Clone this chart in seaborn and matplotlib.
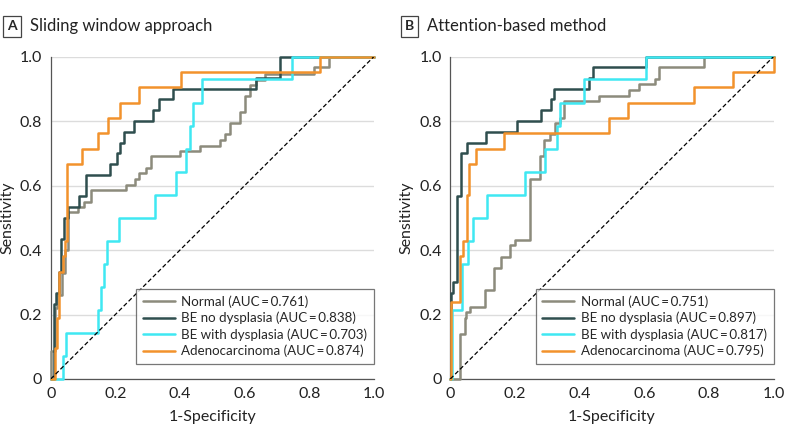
import numpy as np
import pandas as pd
import matplotlib
matplotlib.use("Agg")
import matplotlib.pyplot as plt
import seaborn as sns

# ROC step points (fpr at the vertical step, tpr at the top of the step)
groups = ["Normal", "BE no dysplasia", "BE with dysplasia", "Adenocarcinoma"]
colors = ["#8c8b7c", "#2f4e4e", "#3fe8f2", "#f2922c"]

auc_a = [0.761, 0.838, 0.703, 0.874]
auc_b = [0.751, 0.897, 0.817, 0.795]

# Panel A: sliding window approach
a_normal_fpr = [0, 0.002, 0.012, 0.020, 0.035, 0.045, 0.052, 0.085, 0.104, 0.124, 0.233, 0.261, 0.274,
                0.294, 0.309, 0.400, 0.462, 0.524, 0.540, 0.555, 0.586, 0.601, 0.617, 0.636, 0.663,
                0.815, 0.862, 1.0]
a_normal_tpr = [0, 0.088, 0.220, 0.260, 0.330, 0.400, 0.517, 0.533, 0.550, 0.585, 0.603, 0.621, 0.638,
                0.655, 0.690, 0.707, 0.724, 0.741, 0.759, 0.793, 0.828, 0.879, 0.912, 0.928, 0.946,
                0.966, 1.0, 1.0]
a_nodys_fpr = [0, 0.009, 0.017, 0.025, 0.033, 0.042, 0.053, 0.088, 0.109, 0.183, 0.204, 0.214, 0.227,
               0.259, 0.315, 0.335, 0.378, 0.635, 0.710, 1.0]
a_nodys_tpr = [0, 0.233, 0.267, 0.333, 0.433, 0.500, 0.533, 0.567, 0.633, 0.667, 0.700, 0.733, 0.767,
               0.800, 0.833, 0.867, 0.900, 0.933, 1.0, 1.0]
a_dys_fpr = [0, 0.037, 0.046, 0.147, 0.156, 0.166, 0.175, 0.211, 0.323, 0.387, 0.420, 0.431, 0.441,
             0.467, 0.745, 1.0]
a_dys_tpr = [0, 0.071, 0.143, 0.214, 0.286, 0.357, 0.429, 0.500, 0.571, 0.643, 0.714, 0.786, 0.857,
             0.929, 1.0, 1.0]
a_adeno_fpr = [0, 0.013, 0.020, 0.027, 0.038, 0.044, 0.050, 0.098, 0.147, 0.176, 0.215, 0.274, 0.404,
               0.834, 1.0]
a_adeno_tpr = [0, 0.095, 0.190, 0.333, 0.381, 0.429, 0.667, 0.714, 0.762, 0.810, 0.857, 0.905, 0.952,
               1.0, 1.0]

# Panel B: attention-based method
b_normal_fpr = [0, 0.031, 0.044, 0.050, 0.060, 0.106, 0.134, 0.156, 0.185, 0.200, 0.246, 0.278, 0.291,
                0.309, 0.324, 0.340, 0.353, 0.461, 0.554, 0.585, 0.632, 0.646, 0.784, 1.0]
b_normal_tpr = [0, 0.138, 0.190, 0.207, 0.224, 0.276, 0.345, 0.379, 0.414, 0.431, 0.621, 0.690, 0.741,
                0.759, 0.793, 0.810, 0.862, 0.879, 0.897, 0.914, 0.931, 0.966, 1.0, 1.0]
b_nodys_fpr = [0, 0.001, 0.009, 0.022, 0.032, 0.053, 0.110, 0.206, 0.281, 0.312, 0.322, 0.430, 0.441,
               0.605, 1.0]
b_nodys_tpr = [0, 0.267, 0.300, 0.567, 0.700, 0.733, 0.767, 0.800, 0.833, 0.867, 0.900, 0.933, 0.967,
               1.0, 1.0]
b_dys_fpr = [0, 0.006, 0.037, 0.056, 0.071, 0.113, 0.231, 0.293, 0.329, 0.340, 0.415, 0.605, 1.0]
b_dys_tpr = [0, 0.214, 0.357, 0.429, 0.500, 0.571, 0.643, 0.714, 0.786, 0.857, 0.929, 1.0, 1.0]
b_adeno_fpr = [0, 0.003, 0.031, 0.039, 0.051, 0.058, 0.080, 0.167, 0.491, 0.549, 0.755, 0.874, 1.0]
b_adeno_tpr = [0, 0.238, 0.381, 0.429, 0.571, 0.667, 0.714, 0.762, 0.810, 0.857, 0.905, 0.952, 1.0]


def build_frame(curves, aucs):
    frames = []
    for name, (fpr, tpr), auc in zip(groups, curves, aucs):
        label = f"{name} (AUC\u2009=\u20090.{int(round(auc * 1000)):03d})"
        frames.append(pd.DataFrame({"fpr": fpr, "tpr": tpr, "label": label}))
    return pd.concat(frames, ignore_index=True)


def draw_panel(ax, df):
    labels = list(df["label"].unique())
    ax.grid(axis="y", color="#dcdcdc", linewidth=1)
    ax.set_axisbelow(True)
    sns.lineplot(data=df, x="fpr", y="tpr", hue="label", hue_order=labels,
                 palette=colors, sort=False, estimator=None, drawstyle="steps-post",
                 linewidth=1.8, ax=ax, clip_on=False, zorder=3)
    ax.plot([0, 1], [0, 1], color="black", linestyle=(0, (3.5, 2)), linewidth=0.9, zorder=4)
    ax.set_xlim(0, 1)
    ax.set_ylim(0, 1)
    ticks = [0, 0.2, 0.4, 0.6, 0.8, 1.0]
    ticklabels = ["0", "0.2", "0.4", "0.6", "0.8", "1.0"]
    ax.set_xticks(ticks)
    ax.set_xticklabels(ticklabels)
    ax.set_yticks(ticks)
    ax.set_yticklabels(ticklabels)
    ax.tick_params(axis="both", direction="out", length=4, width=0.8, color="#555555",
                   labelsize=11.5, labelcolor="#222222", pad=2)
    for side in ["top", "right"]:
        ax.spines[side].set_visible(False)
    for side in ["left", "bottom"]:
        ax.spines[side].set_color("#555555")
        ax.spines[side].set_linewidth(0.9)
    ax.set_xlabel("1-Specificity", fontsize=11.5, color="#222222", labelpad=6)
    ax.set_ylabel("Sensitivity", fontsize=11.5, color="#222222", labelpad=4)
    leg = ax.legend(loc="lower right", bbox_to_anchor=(1.0, 0.046), borderaxespad=0,
                    fontsize=9.6, frameon=True, fancybox=False, handlelength=2.4,
                    handletextpad=0.5, labelspacing=0.3, borderpad=0.5)
    leg.get_frame().set_edgecolor("#555555")
    leg.get_frame().set_linewidth(0.9)
    for line in leg.get_lines():
        line.set_linewidth(1.8)


sns.set_theme(style="white")
plt.rcParams["font.family"] = ["Lato", "DejaVu Sans"]

fig = plt.figure(figsize=(7.85, 4.34), dpi=100)
ax_a = fig.add_axes([50.7 / 785, 55 / 434, 323.3 / 785, 322.5 / 434])
ax_b = fig.add_axes([450.3 / 785, 55 / 434, 323.3 / 785, 322.5 / 434])

df_a = build_frame([(a_normal_fpr, a_normal_tpr), (a_nodys_fpr, a_nodys_tpr),
                    (a_dys_fpr, a_dys_tpr), (a_adeno_fpr, a_adeno_tpr)], auc_a)
df_b = build_frame([(b_normal_fpr, b_normal_tpr), (b_nodys_fpr, b_nodys_tpr),
                    (b_dys_fpr, b_dys_tpr), (b_adeno_fpr, b_adeno_tpr)], auc_b)

draw_panel(ax_a, df_a)
draw_panel(ax_b, df_b)

box = dict(boxstyle="square,pad=0.3", facecolor="white", edgecolor="#444444", linewidth=0.9)
fig.text(12.2 / 785, 1 - 26.5 / 434, "A", fontsize=10, fontweight="bold", ha="center", va="center",
         bbox=box)
fig.text(30 / 785, 1 - 26 / 434, "Sliding window approach", fontsize=12, ha="left", va="center",
         color="#222222")
fig.text(409.3 / 785, 1 - 26.5 / 434, "B", fontsize=10, fontweight="bold", ha="center", va="center",
         bbox=box)
fig.text(426.7 / 785, 1 - 26 / 434, "Attention-based method", fontsize=12, ha="left", va="center",
         color="#222222")

fig.savefig("out.png", dpi=100)
